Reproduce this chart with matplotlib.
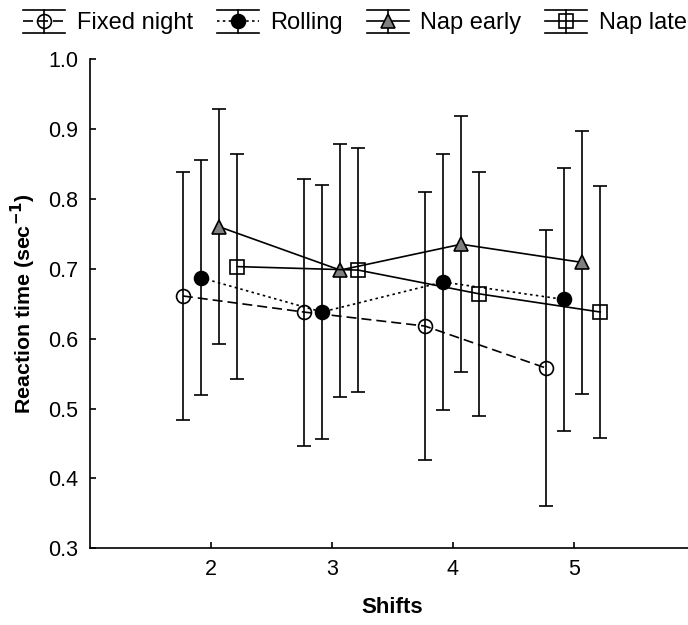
import matplotlib
matplotlib.use("Agg")
import matplotlib.pyplot as plt
from matplotlib.legend_handler import HandlerBase
from matplotlib.lines import Line2D

plt.rcParams['font.family'] = ['Liberation Sans', 'DejaVu Sans']

# dati
shifts = [2, 3, 4, 5]
groups = ['Fixed night', 'Rolling', 'Nap early', 'Nap late']

fixed_mean = [0.661, 0.638, 0.618, 0.558]
fixed_err = [0.177, 0.191, 0.192, 0.197]
rolling_mean = [0.687, 0.638, 0.681, 0.656]
rolling_err = [0.168, 0.182, 0.183, 0.188]
early_mean = [0.760, 0.698, 0.735, 0.709]
early_err = [0.168, 0.181, 0.183, 0.188]
late_mean = [0.703, 0.698, 0.664, 0.638]
late_err = [0.161, 0.174, 0.175, 0.180]

means = [fixed_mean, rolling_mean, early_mean, late_mean]
errs = [fixed_err, rolling_err, early_err, late_err]

# stile delle serie
offsets = [-0.23, -0.08, 0.07, 0.22]
markers = ['o', 'o', '^', 's']
facecolors = ['none', 'black', '#808080', 'none']
linestyles = [(0, (6, 3)), (0, (1.5, 2)), '-', '-']

LW = 1.2


class ErrbarHandler(HandlerBase):
    def __init__(self, ls, marker, mfc):
        super().__init__()
        self.ls = ls
        self.marker = marker
        self.mfc = mfc

    def create_artists(self, legend, orig_handle, xdescent, ydescent,
                       width, height, fontsize, trans):
        x0, x1 = -xdescent, -xdescent + width
        y0, y1 = -ydescent, -ydescent + height
        xm, ym = (x0 + x1) / 2, (y0 + y1) / 2
        arts = [
            Line2D([x0, x1], [y0, y0], color='black', lw=LW),
            Line2D([x0, x1], [y1, y1], color='black', lw=LW),
            Line2D([xm, xm], [y0, y1], color='black', lw=LW),
            Line2D([x0, x1], [ym, ym], color='black', lw=LW, linestyle=self.ls),
            Line2D([xm], [ym], marker=self.marker, markersize=10,
                   markerfacecolor=self.mfc, markeredgecolor='black',
                   markeredgewidth=LW, linestyle='none'),
        ]
        for a in arts:
            a.set_transform(trans)
        return arts


fig = plt.figure(figsize=(6.88, 6.25), dpi=100)
ax = fig.add_axes([0.1304, 0.1227, 0.8696, 0.7829])

containers = []
hmap = {}
for i in range(4):
    xs = [s + offsets[i] for s in shifts]
    c = ax.errorbar(xs, means[i], yerr=errs[i], color='black', lw=LW,
                    linestyle=linestyles[i], marker=markers[i], markersize=10,
                    markerfacecolor=facecolors[i], markeredgecolor='black',
                    markeredgewidth=LW, ecolor='black', elinewidth=LW,
                    capsize=4.7, capthick=LW)
    containers.append(c)
    hmap[c] = ErrbarHandler(linestyles[i], markers[i], facecolors[i])

ax.set_xlim(1, 5.945)
ax.set_ylim(0.3, 1.0)
ax.set_xticks(shifts)
ax.set_yticks([0.3, 0.4, 0.5, 0.6, 0.7, 0.8, 0.9, 1.0])
ax.set_yticklabels(['0.3', '0.4', '0.5', '0.6', '0.7', '0.8', '0.9', '1.0'])

for side in ['top', 'right']:
    ax.spines[side].set_visible(False)
for side in ['left', 'bottom']:
    ax.spines[side].set_linewidth(LW)
ax.tick_params(direction='in', length=4, width=LW, labelsize=15.5, pad=8)

ax.set_xlabel('Shifts', fontsize=16, fontweight='bold')
ax.xaxis.set_label_coords(0.505, -0.10)
ax.set_ylabel('Reaction time (sec$^{\\mathbf{-1}}$)', fontsize=15.4, fontweight='bold')
ax.yaxis.set_label_coords(-0.086, 0.50)

fig.legend(handles=containers, labels=groups, handler_map=hmap,
           loc='upper left', bbox_to_anchor=(23 / 688, 1 - 10 / 625),
           ncol=4, frameon=False, fontsize=17, handlelength=1.78,
           handleheight=1.1, handletextpad=0.5, columnspacing=1.0,
           borderpad=0, borderaxespad=0)

fig.savefig('out.png', dpi=100)
